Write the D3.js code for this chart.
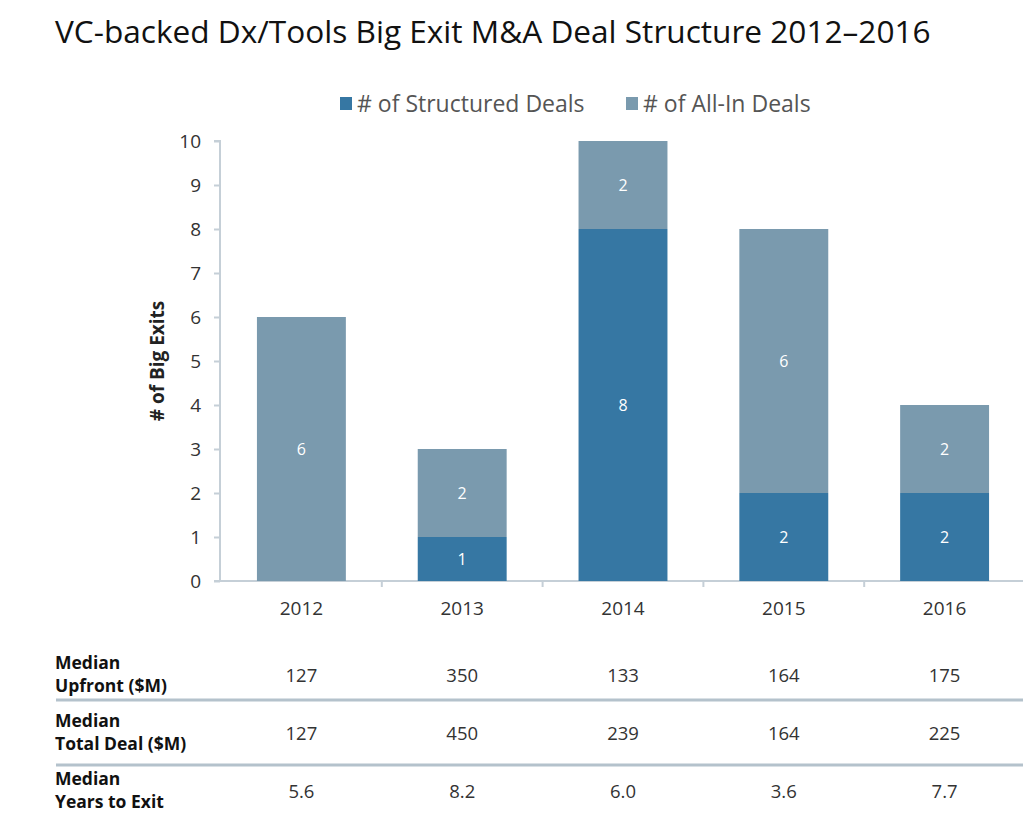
<!DOCTYPE html>
<html><head><meta charset="utf-8">
<script src="https://cdn.jsdelivr.net/npm/d3@7"></script>
<style>
body{margin:0;background:#fff;}
svg{display:block;}
</style></head>
<body>
<svg id="chart" width="1023" height="831"></svg>
<script>
const years = ["2012","2013","2014","2015","2016"];
const structured = [0,1,8,2,2];
const allIn = [6,2,2,6,2];
const yTicks = [0,1,2,3,4,5,6,7,8,9,10];
const rowLabels = [["Median","Upfront ($M)"],["Median","Total Deal ($M)"],["Median","Years to Exit"]];
const upfront = ["127","350","133","164","175"];
const totalDeal = ["127","450","239","164","225"];
const yearsToExit = ["5.6","8.2","6.0","3.6","7.7"];
const seriesNames = ["# of Structured Deals","# of All-In Deals"];
const colors = ["#3677a3","#7a9aae"];

const svg = d3.select("#chart");
const condensed = "'Open Sans','Noto Sans',sans-serif";
const sans = "'Open Sans','Noto Sans',sans-serif";

svg.append("text").attr("x",55).attr("y",43).text("VC-backed Dx/Tools Big Exit M&A Deal Structure 2012\u20132016")
  .attr("font-family",condensed).attr("font-size",31.6).attr("fill","#111");

const x = d3.scaleBand().domain(years).range([221,1025]).paddingInner(0.447).paddingOuter(0.2235);
const y = d3.scaleLinear().domain([0,10]).range([581,141]);

// axes
const yAxis = svg.append("g").attr("transform","translate(220,0)")
  .call(d3.axisLeft(y).tickValues(yTicks).tickSize(6).tickPadding(13).tickFormat(d3.format("d")));
yAxis.select(".domain").attr("stroke","#c5cfd7").attr("stroke-width",2).attr("d","M-6,141H0V581H-6");
yAxis.selectAll(".tick line").attr("stroke","#c5cfd7").attr("stroke-width",2);
yAxis.selectAll(".tick text").attr("font-family",sans).attr("font-size",19).attr("fill","#333");

const xAxis = svg.append("g").attr("transform","translate(0,581)")
  .call(d3.axisBottom(x).tickSize(0).tickPadding(21));
xAxis.select(".domain").attr("stroke","#c5cfd7").attr("stroke-width",2).attr("d","M220,0H1023");
xAxis.selectAll(".tick text").attr("font-family",sans).attr("font-size",19).attr("fill","#333");
// between-category ticks
const step = x.step();
svg.append("g").selectAll("line").data(years.slice(1)).join("line")
  .attr("x1",d=>x(d)-(step-x.bandwidth())/2).attr("x2",d=>x(d)-(step-x.bandwidth())/2)
  .attr("y1",581).attr("y2",587).attr("stroke","#c5cfd7").attr("stroke-width",2);

// stacked bars
const data = years.map((yr,i)=>({year:yr, s:structured[i], a:allIn[i]}));
const stack = d3.stack().keys(["s","a"])(data);
const g = svg.append("g");
stack.forEach((layer,li)=>{
  g.selectAll(null).data(layer).join("rect")
    .attr("x",d=>x(d.data.year)).attr("width",x.bandwidth())
    .attr("y",d=>y(d[1])).attr("height",d=>y(d[0])-y(d[1]))
    .attr("fill",colors[li]);
  g.selectAll(null).data(layer.filter(d=>d[1]-d[0]>0)).join("text")
    .attr("x",d=>x(d.data.year)+x.bandwidth()/2).attr("y",d=>(y(d[0])+y(d[1]))/2)
    .attr("dy","0.35em").attr("text-anchor","middle")
    .attr("font-family",sans).attr("font-size",16).attr("fill","#fff")
    .text(d=>d[1]-d[0]);
});

// y title
svg.append("text").attr("transform","translate(164,361) rotate(-90)").attr("text-anchor","middle")
  .attr("font-family",sans).attr("font-weight","bold").attr("font-size",19).attr("fill","#222")
  .text("# of Big Exits");

// legend
const legX = [340,626];
seriesNames.forEach((n,i)=>{
  svg.append("rect").attr("x",legX[i]).attr("y",97).attr("width",12).attr("height",13).attr("fill",colors[i]);
  svg.append("text").attr("x",legX[i]+17).attr("y",112).text(n)
    .attr("font-family",sans).attr("font-size",23).attr("fill","#555");
});

// table
const rows = [upfront,totalDeal,yearsToExit];
const rowY = [676,734,792];
rows.forEach((vals,ri)=>{
  const t = svg.append("text").attr("x",55).attr("y",rowY[ri]-7)
    .attr("font-family",sans).attr("font-weight","bold").attr("font-size",17.5).attr("fill","#111");
  t.append("tspan").attr("x",55).attr("dy",0).text(rowLabels[ri][0]);
  t.append("tspan").attr("x",55).attr("dy",23).text(rowLabels[ri][1]);
  svg.append("g").selectAll("text").data(vals).join("text")
    .attr("x",(d,i)=>x(years[i])+x.bandwidth()/2).attr("y",rowY[ri]).attr("dy","0.35em")
    .attr("text-anchor","middle").attr("font-family",sans).attr("font-size",18.5).attr("fill","#333")
    .text(d=>d);
});
[700,765].forEach(ly=>{
  svg.append("line").attr("x1",56).attr("x2",1023).attr("y1",ly).attr("y2",ly)
    .attr("stroke","#b4c2cc").attr("stroke-width",3);
});
</script>
</body></html>
